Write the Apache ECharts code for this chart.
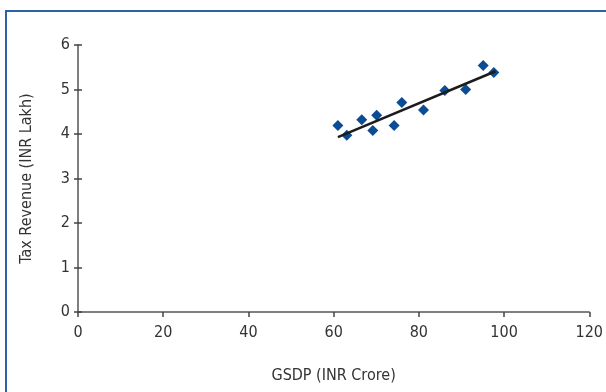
<!DOCTYPE html>
<html>
<head>
<meta charset="utf-8">
<script src="https://cdn.jsdelivr.net/npm/echarts@6/dist/echarts.min.js"></script>
<style>
html, body { margin: 0; padding: 0; background: #fff; }
#chart { width: 606px; height: 392px; }
</style>
</head>
<body>
<div id="chart"></div>
<script>
// GSDP (INR Crore) vs Tax Revenue (INR Lakh)
var gsdp = [61.0, 63.1, 66.6, 69.2, 70.1, 74.2, 76.0, 81.1, 86.1, 91.0, 95.1, 97.6];
var taxRevenue = [4.19, 3.97, 4.32, 4.08, 4.42, 4.19, 4.71, 4.54, 4.98, 5.00, 5.54, 5.38];
// trend line end points
var trendX = [61, 98];
var trendY = [3.93, 5.41];

var xTicks = [0, 20, 40, 60, 80, 100, 120];
var yTicks = [0, 1, 2, 3, 4, 5, 6];

var font = '"DejaVu Sans Condensed", "Liberation Sans Narrow", sans-serif';

var points = gsdp.map(function (x, i) { return [x, taxRevenue[i]]; });
var trend = trendX.map(function (x, i) { return [x, trendY[i]]; });

var chart = echarts.init(document.getElementById('chart'));
var option = {
    animation: false,
    grid: { left: 78, right: 15, top: 45, bottom: 80 },
    graphic: [{
        type: 'polyline',
        shape: { points: [[6, 400], [6, 11], [610, 11]] },
        style: { stroke: '#2c62aa', lineWidth: 2, fill: null }
    }],
    xAxis: {
        type: 'value',
        min: xTicks[0],
        max: xTicks[xTicks.length - 1],
        interval: 20,
        name: 'GSDP (INR Crore)',
        nameLocation: 'middle',
        nameGap: 56,
        nameTextStyle: { fontFamily: font, fontSize: 16, color: '#333' },
        axisLine: { lineStyle: { color: '#555', width: 1.5 } },
        axisTick: { show: true, length: 5, lineStyle: { color: '#444', width: 1.5 } },
        axisLabel: { fontFamily: font, fontSize: 16, color: '#333', margin: 13 },
        splitLine: { show: false }
    },
    yAxis: [{
        type: 'value',
        min: yTicks[0],
        max: yTicks[yTicks.length - 1],
        interval: 1,
        name: 'Tax Revenue (INR Lakh)',
        nameLocation: 'middle',
        nameGap: 43,
        nameTextStyle: { fontFamily: font, fontSize: 16, color: '#333' },
        axisLine: { show: true, lineStyle: { color: '#555', width: 1.5 } },
        axisTick: { show: true, length: 4, lineStyle: { color: '#444', width: 1.5 } },
        axisLabel: { fontFamily: font, fontSize: 16, color: '#333', margin: 8 },
        splitLine: { show: false }
    }, {
        // inner half of the crossing ticks
        type: 'value',
        position: 'left',
        min: yTicks[0],
        max: yTicks[yTicks.length - 1],
        interval: 1,
        axisLine: { show: false },
        axisTick: { show: true, inside: true, length: 4, lineStyle: { color: '#444', width: 1.5 } },
        axisLabel: { show: false },
        splitLine: { show: false }
    }],
    series: [{
        type: 'scatter',
        data: points,
        symbol: 'diamond',
        symbolSize: 11,
        itemStyle: { color: '#0b4c94', opacity: 1 }
    }, {
        type: 'line',
        data: trend,
        showSymbol: false,
        lineStyle: { color: '#1c1c1c', width: 2.5 },
        z: 3
    }]
};
chart.setOption(option);
</script>
</body>
</html>
